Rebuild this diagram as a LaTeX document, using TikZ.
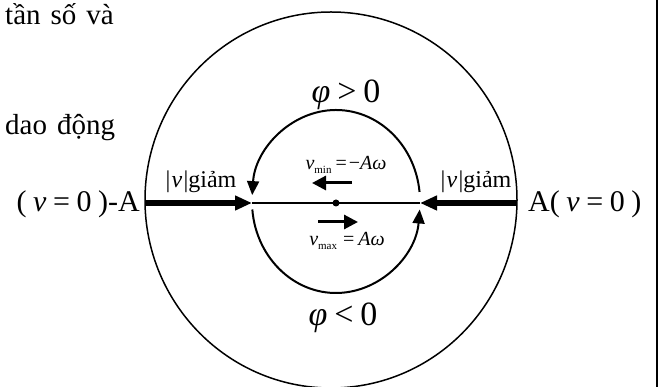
\documentclass[tikz,border=0pt]{standalone}
\usepackage{fontspec}
\setmainfont{Liberation Serif}
\usetikzlibrary{arrows.meta}

\begin{document}
\begin{tikzpicture}[x=1pt, y=1pt,
  bigarr/.style={-{Triangle[length=17pt,width=14pt]}, line width=5.5pt},
  arcarr/.style={-{Triangle[length=14pt,width=12pt]}, line width=2pt},
  velarr/.style={-{Triangle[length=14pt,width=14pt]}, line width=3pt},
  body/.style={inner sep=0pt, anchor=base west, font=\fontsize{29}{32}\selectfont},
  lbl/.style={inner sep=0pt, font=\fontsize{30}{32}\selectfont},
  phase/.style={inner sep=0pt, anchor=base, font=\fontsize{34}{36}\selectfont},
  small/.style={inner sep=0pt, anchor=base, font=\fontsize{24}{26}\selectfont},
  vel/.style={inner sep=0pt, anchor=base, font=\fontsize{20}{22}\selectfont}
]
\useasboundingbox (0,0) rectangle (658,387);
\clip (0,0) rectangle (658,387);

% points on the axis
\coordinate (C) at (336,185.5);
\coordinate (O) at (336,184);
\coordinate (outL) at (145,184);
\coordinate (inL) at (252,184);
\coordinate (inR) at (420,184);
\coordinate (outR) at (517,184);

% circles
\draw[line width=1.5pt] (331,187) ellipse [x radius=186, y radius=188];
\draw[arcarr] ([shift={(6:84 and 91.5)}]C) arc[start angle=6, end angle=176, x radius=84, y radius=91.5];
\draw[arcarr] ([shift={(185:84 and 91.5)}]C) arc[start angle=185, end angle=355, x radius=84, y radius=91.5];

% axis and arrows
\draw[line width=1.2pt] (inL) -- (inR);
\fill (O) circle (3.5);
\draw[bigarr] (outL) -- (inL);
\draw[bigarr] (outR) -- (inR);
\coordinate (vminS) at (352,204);
\coordinate (vminE) at (312,204);
\coordinate (vmaxS) at (318,165);
\coordinate (vmaxE) at (358,165);
\draw[velarr] (vminS) -- (vminE);
\draw[velarr] (vmaxS) -- (vmaxE);

% texts
\node[body] (t1) at (5,362) {\spaceskip=10pt tần số và};
\node[body] (t2) at (5,252) {\spaceskip=10pt dao động};
\node[lbl, anchor=base east] (leftA) at (140,175) {(\hspace{.22em}\textit{v}\hspace{.22em}=\hspace{.22em}0\hspace{.22em})-A};
\node[lbl, anchor=base west] (rightA) at (528,175) {A(\hspace{.22em}\textit{v}\hspace{.22em}=\hspace{.22em}0\hspace{.22em})};
\node[small] (gL) at (201,199) {|\hspace{.05em}\textit{v}\hspace{.05em}|giảm};
\node[small] (gR) at (476,199) {|\hspace{.05em}\textit{v}\hspace{.05em}|giảm};
\node[phase] (pos) at (346,284) {\textit{φ}\hspace{.2em}>\hspace{.2em}0};
\node[phase] (neg) at (343,61) {\textit{φ}\hspace{.2em}<\hspace{.2em}0};
\node[vel] (vmin) at (346,217) {\textit{v}\raisebox{-4pt}{\fontsize{11}{11}\selectfont min}\hspace{.2em}=\hspace{.1em}−\textit{Aω}};
\node[vel] (vmax) at (347,141) {\textit{v}\raisebox{-4pt}{\fontsize{11}{11}\selectfont max}\hspace{.3em}=\hspace{.2em}\textit{Aω}};

% border of the cell
\draw[line width=1.5pt] (657,0) -- (657,387);
\end{tikzpicture}
\end{document}
